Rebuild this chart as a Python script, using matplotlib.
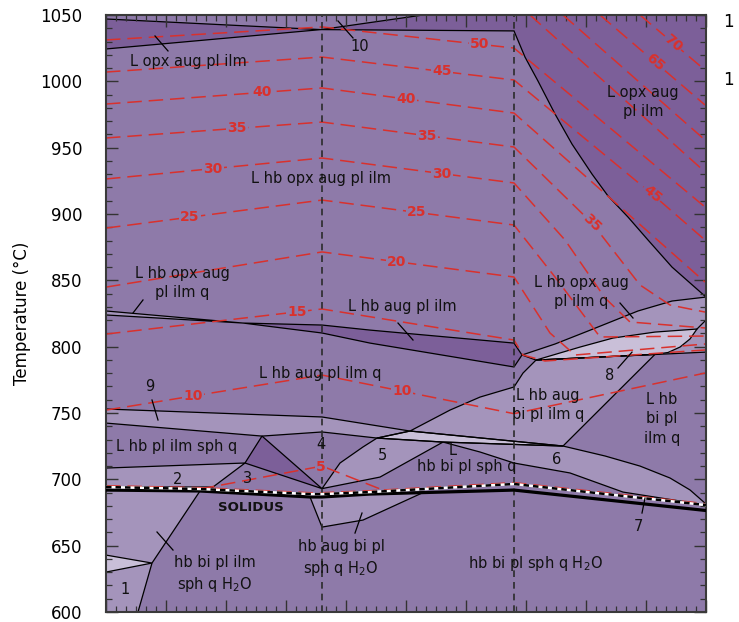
import numpy as np
import matplotlib
matplotlib.use("Agg")
import matplotlib.pyplot as plt
from matplotlib.patches import Polygon
from matplotlib.ticker import MultipleLocator, NullFormatter

# field colours
MED = '#8e7aa9'
DARK = '#7c5f99'
LIGHT = '#a494bb'
PALE = '#c9bfd8'
RED = '#d9312d'

# composition axis is unlabelled, 0..60; temperature in degC
x_iso = [21.6, 40.8]

# ---- phase field outlines (x, T) ----
dark_top_left = [(0, 1047.0), (21.5, 1039.0), (0, 1024.4)]
opx_out_x = [40.8, 41.9, 43.2, 44.9, 46.6, 48.6, 50.2, 52.2, 54.2, 56.6, 60.0]
opx_out_T = [1038.0, 1018.3, 1000.2, 975.4, 952.7, 930.1, 913.6, 897.7, 880.4, 860.0, 837.4]
dark_right = ([(21.5, 1039.0), (31.7, 1050.0), (60, 1050.0)]
              + list(zip(opx_out_x[::-1], opx_out_T[::-1])))
dark_wedge = [(13.7, 817.8), (21.6, 816.3), (26.4, 812.5), (40.8, 802.7), (41.6, 793.7),
              (40.8, 784.7), (26.4, 802.7), (21.6, 810.3)]
dark_tri = [(13.9, 712.3), (15.6, 732.6), (21.6, 693.0)]

sliver_left = [(0, 826.9), (13.7, 817.8), (0, 823.9)]
band_9 = [(0, 753.0), (21.6, 747.0), (30.4, 736.4), (27.1, 731.1), (21.6, 735.7),
          (15.6, 732.6), (0, 742.4)]
pale_sliver = [(30.4, 736.4), (45.7, 725.1), (33.7, 728.1), (27.1, 731.1)]
field_5 = [(21.6, 693.0), (23.4, 712.3), (25.7, 724.4), (27.1, 731.1), (33.7, 728.1), (27.4, 701.7)]
field_6 = [(33.7, 728.1), (45.7, 725.1), (49.9, 717.6), (53.4, 710.0), (56.4, 701.0), (58.4, 692.0),
           (60, 681.4), (60, 680.6), (51.7, 690.4), (46.4, 704.8), (40.8, 712.3), (37.4, 720.6)]
field_2 = [(0, 708.5), (13.9, 712.3), (10.7, 694.2), (0, 694.2)]
aug_bi = [(30.4, 736.4), (34.4, 752.2), (37.4, 762.0), (40.8, 769.6), (41.7, 780.1), (43.0, 789.9),
          (54.9, 794.2), (45.7, 725.1)]
opx_q_band = [(41.6, 793.7), (44.9, 802.0), (48.2, 811.8), (53.2, 826.9), (56.6, 834.4), (60, 837.4),
              (60, 795.9), (43.0, 789.9)]
field_8 = [(43.0, 789.9), (47.4, 799.7), (50.7, 806.5), (54.9, 811.0), (59.1, 813.3), (58.4, 805.8),
           (57.4, 799.7), (56.2, 795.6), (54.9, 794.2)]
sub_left = [(0, 691.9), (9.4, 691.2), (4.6, 636.9), (3.2, 600.0), (0, 600.0)]
sub_wedge = [(0, 642.9), (4.6, 636.9), (0, 630.1)]
sub_mid = [(20.4, 686.7), (21.6, 664.0), (25.7, 669.3), (31.7, 690.0), (26.4, 688.9), (21.6, 686.7)]

fields = [(dark_top_left, DARK), (dark_right, DARK), (dark_wedge, DARK), (dark_tri, DARK),
          (sliver_left, LIGHT), (band_9, LIGHT), (pale_sliver, PALE), (field_5, LIGHT),
          (field_6, LIGHT), (field_2, LIGHT), (aug_bi, LIGHT), (opx_q_band, LIGHT),
          (field_8, PALE), (sub_left, LIGHT), (sub_wedge, PALE), (sub_mid, LIGHT)]

extra_line = [(59.1, 813.3), (60, 820.1)]

solidus_x = [0, 9.4, 20.4, 21.6, 26.4, 40.8, 60]
solidus_T = [691.9, 691.2, 686.7, 686.7, 688.9, 691.9, 676.5]
wet_T = [694.2, 692.7, 688.9, 688.9, 690.4, 696.5, 680.6]

# ---- melt isopleths (vol %) ----
mid_x = [0, 21.6, 40.8]
mid_T = {50: [1031.2, 1041.0, 1025.1], 45: [1007.0, 1018.3, 1001.0], 40: [982.9, 995.0, 976.1],
         35: [957.3, 969.3, 950.5], 30: [926.4, 942.2, 923.4], 25: [889.4, 910.5, 891.7],
         20: [844.9, 871.4, 852.5], 15: [809.5, 828.4, 805.0], 10: [752.2, 778.6, 749.5]}
right_iso = {
    70: ([53.4, 59.9], [1050, 1008.5]),
    65: ([49.4, 59.9], [1050, 982.2]),
    60: ([45.7, 59.9], [1050, 955.8]),
    55: ([42.4, 59.9], [1050, 931.7]),
    50: ([40.8, 59.9], [1025.1, 905.3]),
    45: ([40.8, 54.6, 59.9], [1001.0, 915.1, 880.4]),
    40: ([40.8, 59.9], [976.1, 848.7]),
    35: ([40.8, 48.6, 53.4, 56.4, 59.9], [950.5, 893.2, 846.5, 831.4, 826.1]),
    30: ([40.8, 45.9, 49.9, 52.4, 59.9], [923.4, 880.4, 836.7, 818.6, 814.1]),
    25: ([40.8, 44.9, 49.4, 59.9], [891.7, 852.5, 807.3, 808.0]),
    20: ([40.8, 44.4, 46.9, 59.9], [852.5, 810.3, 793.7, 802.0]),
    15: ([40.8, 41.7, 43.9, 59.9], [805.0, 793.7, 789.2, 797.5]),
    10: ([40.8, 59.9], [749.5, 780.1]),
}
iso5_x = [9.4, 21.6, 28.0]
iso5_T = [692.7, 710.0, 691.0]

# label positions along isopleths (level, x, background)
iso_labels = [(50, 37.4, MED), (45, 33.6, MED), (40, 15.6, MED), (40, 30.0, MED),
              (35, 13.1, MED), (35, 32.1, MED), (30, 10.7, MED), (30, 33.6, MED),
              (25, 8.4, MED), (25, 31.1, MED), (20, 29.1, MED), (15, 19.1, MED),
              (10, 8.7, MED), (10, 29.6, MED), (70, 56.7, DARK), (65, 54.9, DARK),
              (45, 54.6, DARK), (35, 48.6, MED)]

field_text = [
    ("L opx aug pl ilm", 8.2, 1014.6), ("10", 25.4, 1025.9), ("L opx aug\npl ilm", 53.7, 984.4),
    ("L hb opx aug pl ilm", 21.5, 927.1), ("L hb opx aug\npl ilm q", 7.6, 848.0),
    ("L hb opx aug\npl ilm q", 47.5, 841.2), ("L hb aug pl ilm", 29.6, 829.9),
    ("L hb aug pl ilm q", 21.4, 780.1), ("9", 4.4, 769.6), ("L hb pl ilm sph q", 7.1, 725.1),
    ("4", 21.5, 725.9), ("5", 27.6, 718.3), ("L", 34.7, 722.1), ("hb bi pl sph q", 36.1, 709.3),
    ("6", 45.1, 714.6), ("2", 7.2, 700.2), ("3", 14.2, 701.0),
    ("L hb aug\nbi pl ilm q", 44.2, 756.0), ("L hb\nbi pl\nilm q", 55.6, 745.5),
    ("8", 50.4, 778.6), ("7", 53.2, 664.8), ("1", 1.9, 616.6),
    ("hb bi pl ilm\nsph q H$_2$O", 10.9, 628.6), ("hb aug bi pl\nsph q H$_2$O", 23.5, 640.2),
    ("hb bi pl sph q H$_2$O", 42.9, 636.9),
]
pointers = [[(4.9, 1034.2), (6.2, 1022.9)], [(23.2, 1045.5), (24.7, 1032.7)],
            [(3.7, 835.2), (2.7, 825.4)], [(29.2, 817.8), (30.7, 805.0)],
            [(51.4, 832.9), (52.7, 821.6)], [(52.6, 795.9), (51.2, 783.9)],
            [(4.6, 759.8), (5.2, 744.7)], [(53.9, 685.9), (53.6, 674.6)],
            [(24.9, 659.5), (25.6, 674.6)], [(5.1, 660.3), (6.7, 646.7)]]

fig = plt.figure(figsize=(7.39, 6.22), dpi=100)
ax = fig.add_axes([106 / 739, 1 - 612 / 622, 600 / 739, 597 / 622])
ax.set_facecolor(MED)
ax.set_xlim(0, 60)
ax.set_ylim(600, 1050)

for pts, col in fields:
    ax.add_patch(Polygon(pts, closed=True, fc=col, ec='none', zorder=1))
for pts, col in fields:
    ax.add_patch(Polygon(pts, closed=True, fill=False, ec='black', lw=0.9, zorder=1.5))
ax.plot(*zip(*extra_line), color='black', lw=0.9, zorder=1.5)


def iso_line(level):
    if level in mid_T:
        xs = mid_x + right_iso[level][0][1:]
        ts = mid_T[level] + right_iso[level][1][1:]
    else:
        xs, ts = right_iso[level]
    return xs, ts


for level in right_iso:
    xs, ts = iso_line(level)
    ax.plot(xs, ts, color=RED, lw=1.1, dashes=(9.5, 4.5), zorder=2)
ax.plot(iso5_x, iso5_T, color=RED, lw=1.1, dashes=(9.5, 4.5), zorder=2)
ax.plot(solidus_x, np.array(wet_T) + 1.0, color=RED, lw=1.1, dashes=(9.5, 4.5), zorder=2)

# isopleth labels
fig.canvas.draw()
for level, xl, bg in iso_labels:
    xs, ts = iso_line(level)
    tl = np.interp(xl, xs, ts)
    rot = 0
    if xl > 41 and level != 10:
        i = np.searchsorted(xs, xl)
        i = min(max(i, 1), len(xs) - 1)
        p0 = ax.transData.transform((xs[i - 1], ts[i - 1]))
        p1 = ax.transData.transform((xs[i], ts[i]))
        rot = np.degrees(np.arctan2(p1[1] - p0[1], p1[0] - p0[0]))
    ax.text(xl, tl, str(level), color=RED, fontsize=10, fontweight='bold', rotation=rot,
            ha='center', va='center', rotation_mode='anchor', zorder=4,
            bbox=dict(boxstyle='square,pad=0.08', fc=bg, ec='none'))
ax.text(21.5, 709.5, "5", color=RED, fontsize=10, fontweight='bold', ha='center', va='center',
        zorder=4, bbox=dict(boxstyle='square,pad=0.05', fc=MED, ec='none'))

for xv in x_iso:
    ax.axvline(xv, color='#2b2b2b', lw=1.2, dashes=(4, 3), zorder=2.5)

# solidus and water-saturated solidus
ax.plot(solidus_x, solidus_T, color='black', lw=2.3, zorder=3)
ax.plot(solidus_x, wet_T, color='white', lw=1.8, zorder=3)
ax.plot(solidus_x, wet_T, color='black', lw=1.8, dashes=(2.2, 1.6), zorder=3.1)

for seg in pointers:
    ax.plot(*zip(*seg), color='black', lw=0.9, zorder=3)

for txt, xt, tt in field_text:
    ax.text(xt, tt, txt, fontsize=10.5, ha='center', va='center', linespacing=1.35,
            color='#111111', zorder=4)
ax.text(14.5, 679.1, "SOLIDUS", fontsize=9.5, fontweight='bold', ha='center', va='center',
        color='#111111', zorder=4)

ax.xaxis.set_major_locator(MultipleLocator(6))
ax.xaxis.set_minor_locator(MultipleLocator(1))
ax.xaxis.set_major_formatter(NullFormatter())
ax.yaxis.set_major_locator(MultipleLocator(50))
ax.yaxis.set_minor_locator(MultipleLocator(10))
ax.tick_params(which='both', direction='in', top=True, right=True, color='#333333')
ax.tick_params(which='major', length=8.5, width=1.0, labelsize=12, pad=17)
ax.tick_params(which='minor', length=4.5, width=0.9)
for sp in ax.spines.values():
    sp.set_color('#3a3a3a')
    sp.set_linewidth(1.5)
ax.set_ylabel("Temperature (\u00b0C)", fontsize=12)
ax.yaxis.set_label_coords(-0.125, 0.5)

# cut-off tick labels of the neighbouring panel
fig.text(723 / 739, 1 - 22 / 622, "1", fontsize=12, va='center', ha='left')
fig.text(723 / 739, 1 - 80 / 622, "1", fontsize=12, va='center', ha='left')

fig.savefig("out.png", dpi=100)
